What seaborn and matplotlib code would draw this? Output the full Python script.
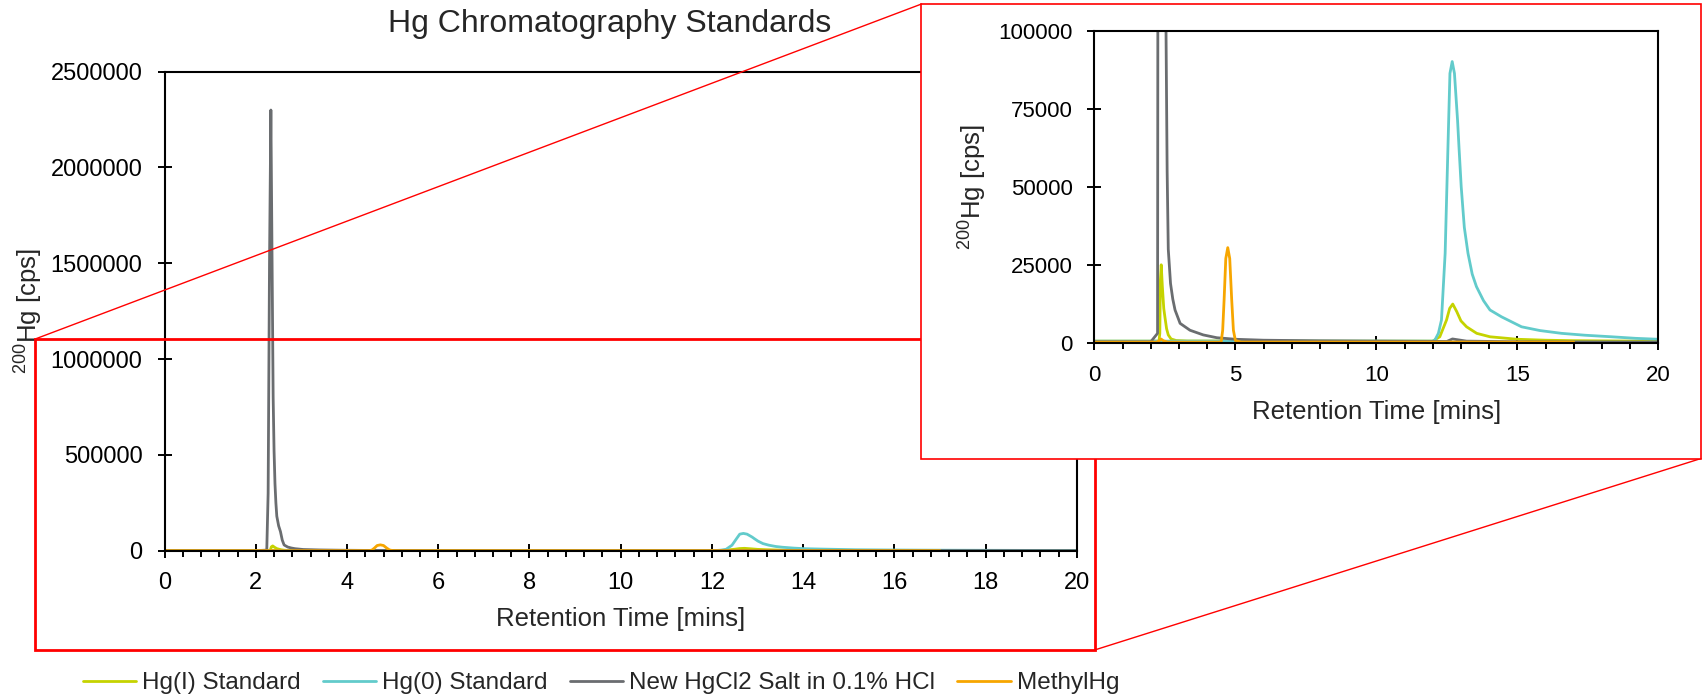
import matplotlib
matplotlib.use('Agg')
import matplotlib.pyplot as plt
import seaborn as sns
from matplotlib.patches import Rectangle
from matplotlib.lines import Line2D
from matplotlib.ticker import MultipleLocator, StrMethodFormatter

sns.set_style('white')
plt.rcParams['font.family'] = ['Liberation Sans', 'DejaVu Sans']
plt.rcParams['mathtext.fontset'] = 'custom'
plt.rcParams['mathtext.rm'] = 'Liberation Sans'
plt.rcParams['mathtext.it'] = 'Liberation Sans:italic'
plt.rcParams['mathtext.bf'] = 'Liberation Sans:bold'

# Chromatogram traces (retention time in mins, counts/s)
hg1_time = [0, 2.0, 2.29, 2.32, 2.34, 2.37, 2.41, 2.46, 2.50, 2.56, 2.62,
            2.72, 2.9, 3.3, 8.0, 12.0, 12.25, 12.49, 12.6, 12.71, 12.85,
            13.0, 13.2, 13.56, 14.03, 15.0, 16.0, 17.0, 18.5, 20.0]
hg1_cps = [500, 500, 500, 3000, 20000, 25000, 18000, 11000, 8300, 4500, 2500,
           1200, 700, 550, 500, 500, 1900, 7300, 11000, 12400, 10000, 7000,
           5100, 3000, 1900, 1100, 800, 650, 550, 500]

hg0_time = [0, 5.0, 10.0, 12.0, 12.08, 12.2, 12.31, 12.44, 12.54, 12.61,
            12.69, 12.77, 12.88, 12.93, 13.01, 13.12, 13.25, 13.4, 13.55,
            13.8, 14.03, 14.44, 15.15, 15.8, 16.57, 17.4, 18.34, 19.2, 20.0]
hg0_cps = [500, 500, 500, 500, 900, 3000, 7300, 28700, 63000, 86400, 90200,
           86400, 71400, 62900, 50000, 37000, 28700, 22000, 18000, 13500,
           10500, 8300, 5100, 3900, 3000, 2400, 1900, 1400, 1100]

hgcl2_time = [0, 2.0, 2.24, 2.27, 2.30, 2.33, 2.35, 2.38, 2.40, 2.42, 2.44,
              2.46, 2.50, 2.54, 2.58, 2.62, 2.70, 2.78, 2.86, 3.04, 3.39,
              3.86, 4.34, 5.0, 6.0, 8.0, 10.0, 12.5, 12.7, 13.2, 15.0, 20.0]
hgcl2_cps = [300, 300, 3000, 300000, 1500000, 2300000, 1700000, 800000,
             520000, 350000, 250000, 180000, 130000, 100000, 55000, 30000,
             19000, 14000, 10500, 6200, 4000, 2500, 1600, 1100, 800, 600,
             500, 400, 1200, 500, 300, 200]

mehg_time = [0, 2.2, 2.3, 2.36, 2.45, 2.6, 4.45, 4.50, 4.55, 4.60, 4.66,
             4.73, 4.80, 4.87, 4.93, 5.0, 5.2, 10.0, 14.0, 17.0]
mehg_cps = [200, 200, 600, 1200, 600, 200, 200, 500, 4000, 13700, 27000,
            30500, 27000, 13700, 4000, 700, 200, 200, 200, 200]

series_names = ['Hg(I) Standard', 'Hg(0) Standard',
                'New HgCl2 Salt in 0.1% HCl', 'MethylHg']
series_time = [hg1_time, hg0_time, hgcl2_time, mehg_time]
series_cps = [hg1_cps, hg0_cps, hgcl2_cps, mehg_cps]
series_colors = ['#c5d300', '#62cbcb', '#6a6d70', '#f7a600']

W, H = 1706, 697
fig = plt.figure(figsize=(W / 100, H / 100), dpi=100)


def fig_box(x0, y0, x1, y1):
    """Pixel box (origin top-left) -> figure fraction [left, bottom, w, h]."""
    return [x0 / W, 1 - y1 / H, (x1 - x0) / W, (y1 - y0) / H]


def draw_traces(ax, lw):
    for name, t, v, c in zip(series_names, series_time, series_cps,
                             series_colors):
        sns.lineplot(x=t, y=v, ax=ax, color=c, lw=lw, label=name)
    if ax.get_legend() is not None:
        ax.get_legend().remove()


def style_axes(ax, ymax, ystep, xmajor, xminor, tick_fs, label_fs,
               maj_len, xpad, ypad, ylabelpad):
    ax.set_xlim(0, 20)
    ax.set_ylim(0, ymax)
    ax.xaxis.set_major_locator(MultipleLocator(xmajor))
    ax.xaxis.set_minor_locator(MultipleLocator(xminor))
    ax.yaxis.set_major_locator(MultipleLocator(ystep))
    ax.xaxis.set_major_formatter(StrMethodFormatter('{x:.0f}'))
    ax.yaxis.set_major_formatter(StrMethodFormatter('{x:.0f}'))
    ax.tick_params(which='major', direction='inout', length=maj_len,
                   width=1.4, labelsize=tick_fs, colors='black',
                   bottom=True, left=True)
    ax.tick_params(axis='x', which='major', pad=xpad)
    ax.tick_params(axis='y', which='major', pad=ypad)
    ax.tick_params(axis='x', which='minor', direction='out', length=4,
                   width=1.4, bottom=True, colors='black')
    for sp in ax.spines.values():
        sp.set_linewidth(1.5)
        sp.set_color('black')
    ax.set_xlabel('Retention Time [mins]', fontsize=label_fs, labelpad=10)
    ax.set_ylabel(r'$^{\mathrm{200}}$Hg [cps]', fontsize=label_fs,
                  labelpad=ylabelpad)


# Main chart
ax = fig.add_axes(fig_box(164.6, 71.7, 1076.8, 550.7))
draw_traces(ax, 2.0)
style_axes(ax, 2500000, 500000, 2, 0.4, 17, 18.5, 10, 10, 11, 4)
fig.text(610 / W, 1 - 32 / H, 'Hg Chromatography Standards', fontsize=23,
         ha='center', va='baseline')

# Zoom marker and connectors
fig.add_artist(Rectangle((35.2 / W, 1 - 650 / H), (1094.6 - 35.2) / W,
                         (650 - 339) / H, transform=fig.transFigure,
                         fill=False, ec='#ff0000', lw=2.0, zorder=2))
fig.add_artist(Line2D([35.2 / W, 921.5 / W], [1 - 339 / H, 1 - 4 / H],
                      transform=fig.transFigure, color='#ff0000', lw=1.0,
                      zorder=2))
fig.add_artist(Line2D([1094.6 / W, 1701 / W], [1 - 650 / H, 1 - 458.5 / H],
                      transform=fig.transFigure, color='#ff0000', lw=1.0,
                      zorder=2))
fig.add_artist(Rectangle((921.5 / W, 1 - 458.5 / H), (1701 - 921.5) / W,
                         (458.5 - 4) / H, transform=fig.transFigure,
                         fc='white', ec='#ff0000', lw=1.2, zorder=3))

# Inset chart
axi = fig.add_axes(fig_box(1094.4, 31, 1658.3, 342.7))
axi.set_zorder(4)
draw_traces(axi, 2.0)
style_axes(axi, 100000, 25000, 5, 1, 16, 18.5, 10, 11, 10.5, 7)

handles, labels = ax.get_legend_handles_labels()
fig.legend(handles, labels, loc='center', bbox_to_anchor=(601 / W, 1 - 683 / H),
           ncol=4, frameon=False, fontsize=17.5, handlelength=2.2,
           handletextpad=0.25, columnspacing=0.9)

fig.savefig('out.png', dpi=100)
